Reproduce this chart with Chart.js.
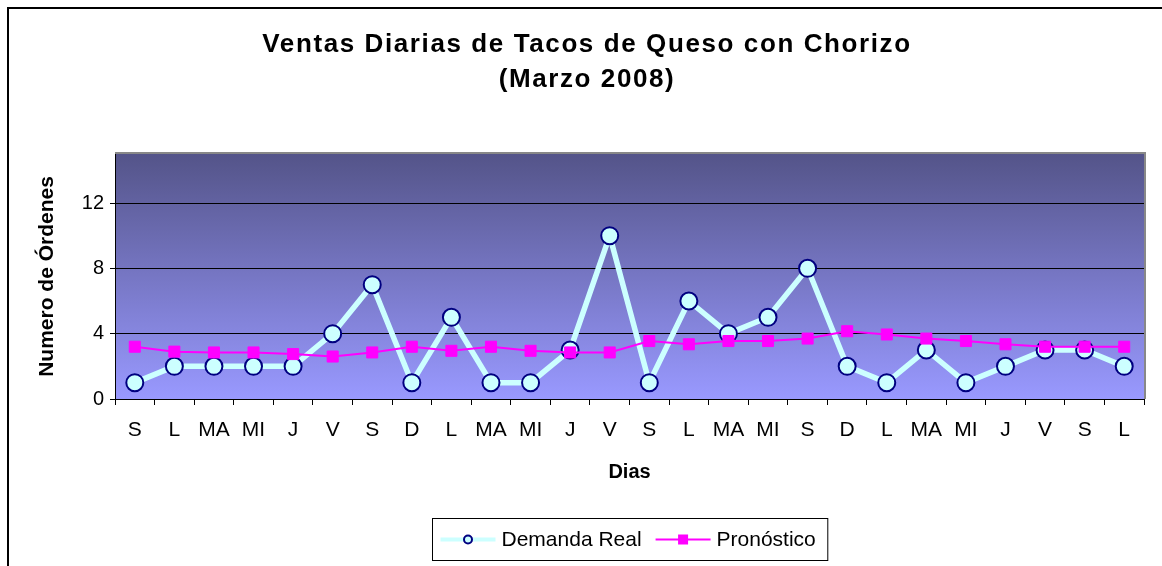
<!DOCTYPE html>
<html><head><meta charset="utf-8">
<script src="https://cdn.jsdelivr.net/npm/chart.js@4"></script>
<style>html,body{margin:0;padding:0;background:#fff}</style>
</head><body>
<canvas id="c" width="1162" height="566"></canvas>
<script>
const dias=['S','L','MA','MI','J','V','S','D','L','MA','MI','J','V','S','L','MA','MI','S','D','L','MA','MI','J','V','S','L'];
const demandaReal=[1,2,2,2,2,4,7,1,5,1,1,3,10,1,6,4,5,8,2,1,3,1,2,3,3,2];
const pronostico=[3.2,2.9,2.85,2.85,2.75,2.6,2.85,3.2,2.95,3.2,2.95,2.85,2.85,3.55,3.35,3.55,3.55,3.7,4.15,3.95,3.7,3.55,3.35,3.2,3.2,3.2];
const yTicks=[0,4,8,12];
const titulo=['Ventas Diarias de Tacos de Queso con Chorizo','(Marzo 2008)'];
const FONT='"Liberation Sans", Arial, sans-serif';

// plot background gradient
const fondo={id:'fondo',beforeDraw(chart){
  const {ctx,chartArea:a}=chart;
  const g=ctx.createLinearGradient(0,a.top,0,a.bottom);
  g.addColorStop(0,'#545489');g.addColorStop(1,'#9999ff');
  ctx.save();ctx.fillStyle=g;ctx.fillRect(a.left,a.top,a.right-a.left,a.bottom-a.top);ctx.restore();
}};

// frame, title, plot border and boxed legend
const extras={id:'extras',afterDraw(chart){
  const {ctx,chartArea:a}=chart;
  ctx.save();
  ctx.strokeStyle='#000';ctx.lineWidth=2;ctx.strokeRect(8,8,2000,2000);
  ctx.strokeStyle='#888';ctx.lineWidth=2;
  ctx.beginPath();ctx.moveTo(a.left,a.top-1);ctx.lineTo(a.right+1,a.top-1);ctx.lineTo(a.right+1,a.bottom);ctx.stroke();

  ctx.fillStyle='#000';ctx.textAlign='center';ctx.textBaseline='middle';
  ctx.font='bold 26px '+FONT;ctx.letterSpacing='1.6px';
  ctx.fillText(titulo[0],587,45);
  ctx.fillText(titulo[1],587,80);
  ctx.letterSpacing='0px';

  // legend
  ctx.font='21px '+FONT;ctx.textAlign='left';
  const ds=chart.data.datasets;
  const w=ds.map(d=>ctx.measureText(d.label).width);
  const lineW=55,pad=8,gap=6,between=14;
  const boxW=pad+lineW+gap+w[0]+between+lineW+gap+w[1]+12;
  const cx=(a.left+a.right)/2;
  const bx=Math.round(cx-boxW/2)+0.5, by=518.5, bh=42, my=by+bh/2;
  ctx.strokeStyle='#000';ctx.lineWidth=1;ctx.strokeRect(bx,by,boxW,bh);
  let x=bx+pad;
  ds.forEach((d,i)=>{
    ctx.strokeStyle=d.borderColor;ctx.lineWidth=i===0?4:2;
    ctx.beginPath();ctx.moveTo(x,my);ctx.lineTo(x+lineW,my);ctx.stroke();
    const px=x+lineW/2;
    if(d.pointStyle==='rect'){
      ctx.fillStyle=d.pointBackgroundColor;ctx.fillRect(px-5,my-5,10,10);
    }else{
      ctx.beginPath();ctx.arc(px,my,4,0,Math.PI*2);ctx.fillStyle=d.pointBackgroundColor;ctx.fill();
      ctx.strokeStyle=d.pointBorderColor;ctx.lineWidth=2;ctx.stroke();
    }
    ctx.fillStyle='#000';ctx.fillText(d.label,x+lineW+gap,my+1);
    x+=lineW+gap+w[i]+between;
  });
  ctx.restore();
}};

new Chart(document.getElementById('c'),{
  type:'line',
  data:{labels:dias,datasets:[
    {label:'Demanda Real',data:demandaReal,borderColor:'#ccffff',borderWidth:5.5,pointRadius:8.5,
     pointBackgroundColor:'#ccffff',pointBorderColor:'#000080',pointBorderWidth:2,tension:0,order:1},
    {label:'Pronóstico',data:pronostico,borderColor:'#ff00ff',borderWidth:2,pointStyle:'rect',pointRadius:7.8,
     pointBackgroundColor:'#ff00ff',pointBorderColor:'#ff00ff',pointBorderWidth:1,tension:0,order:0}
  ]},
  options:{
    responsive:false,animation:false,events:[],
    layout:{padding:{top:154,right:18,bottom:77,left:0}},
    plugins:{legend:{display:false},title:{display:false},tooltip:{enabled:false}},
    scales:{
      x:{offset:true,
        grid:{offset:true,drawOnChartArea:false,drawTicks:true,tickLength:6,color:'#000'},
        border:{color:'#000',width:1},
        ticks:{color:'#000',font:{family:FONT,size:21},padding:13,maxRotation:0,autoSkip:false},
        title:{display:true,text:'Dias',color:'#000',font:{family:FONT,size:20,weight:'bold'},padding:{top:0,bottom:5}},
        afterFit(s){s.height=90;}
      },
      y:{min:0,max:15,
        afterBuildTicks(s){s.ticks=yTicks.map(v=>({value:v}));},
        grid:{color:'#000',tickLength:5,drawTicks:true},
        border:{color:'#000',width:1},
        ticks:{color:'#000',font:{family:FONT,size:20},padding:6},
        title:{display:true,text:'Numero de Órdenes',color:'#000',font:{family:FONT,size:21,weight:'bold'},padding:{top:35,bottom:0}},
        afterFit(s){s.width=115;}
      }
    }
  },
  plugins:[fondo,extras]
});
</script>
</body></html>
